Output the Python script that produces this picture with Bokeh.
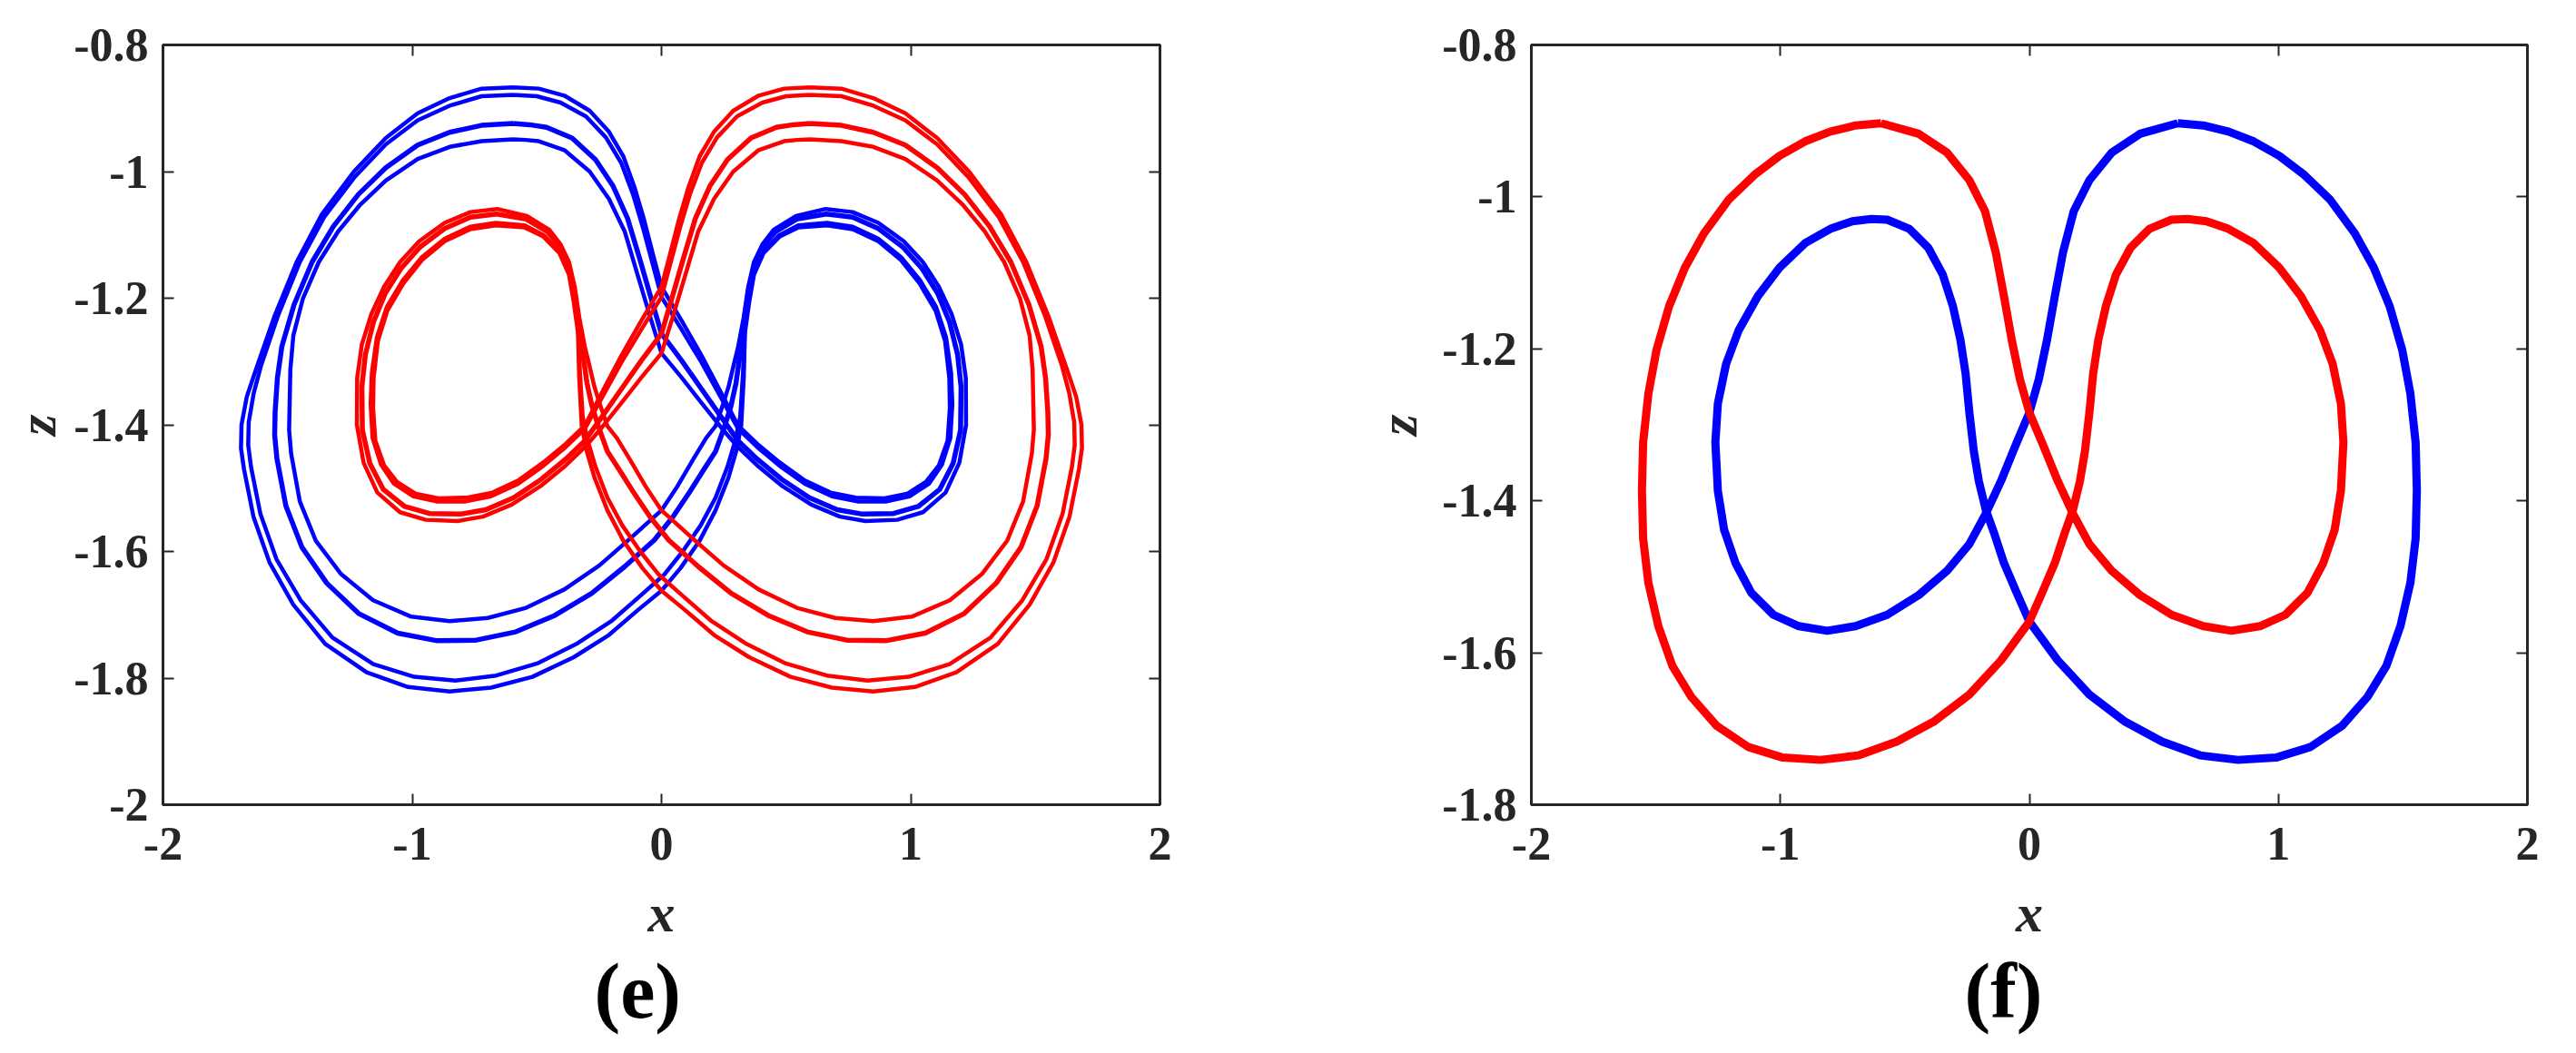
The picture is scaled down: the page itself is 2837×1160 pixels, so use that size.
from bokeh.plotting import figure
from bokeh.layouts import row
from bokeh.models import Range1d, LinearAxis, FixedTicker, CustomJSTickFormatter, Title
from bokeh.embed import file_html
from bokeh.resources import INLINE

# ---------------- data ----------------
x_ticks = [-2, -1, 0, 1, 2]
e_z_ticks = [-2.0, -1.8, -1.6, -1.4, -1.2, -1.0, -0.8]
f_z_ticks = [-1.8, -1.6, -1.4, -1.2, -1.0, -0.8]
panel_tags = ["(e)", "(f)"]
x_title = "x"
z_title = "z"

# panel (e): four strands per colour; red strands are the mirror images of blue ones
e_blue_a_x = [-0.595,-0.722,-0.850,-0.978,-1.106,-1.234,-1.362,-1.464,-1.554,-1.630,
              -1.664,-1.685,-1.687,-1.675,-1.637,-1.573,-1.477,-1.349,-1.183,-1.017,-0.850,-0.684,
              -0.518,-0.352,-0.211,-0.096,0.000,0.077,0.153,0.217,0.269,0.301,
              0.320,0.330,0.335,0.352,0.371,0.409,0.473,0.550,0.665,0.767,
              0.870,0.959,1.036,1.100,1.138,1.155,1.157,1.148,1.113,1.061,
              0.985,0.895,0.780,0.678,0.575,0.473,0.384,0.307,0.240,0.160,
              0.080,0.000,-0.032,-0.070,-0.109,-0.153,-0.211,-0.288,-0.390,-0.492,-0.595]
e_red_a_x = [0.595,0.722,0.850,0.978,1.106,1.234,1.362,1.464,1.554,1.630,
             1.664,1.685,1.687,1.675,1.637,1.573,1.477,1.349,1.183,1.017,0.850,0.684,
             0.518,0.352,0.211,0.096,0.000,-0.077,-0.153,-0.217,-0.269,-0.301,
             -0.320,-0.330,-0.335,-0.352,-0.371,-0.409,-0.473,-0.550,-0.665,-0.767,
             -0.870,-0.959,-1.036,-1.100,-1.138,-1.155,-1.157,-1.148,-1.113,-1.061,
             -0.985,-0.895,-0.780,-0.678,-0.575,-0.473,-0.384,-0.307,-0.240,-0.160,
             -0.080,0.000,0.032,0.070,0.109,0.153,0.211,0.288,0.390,0.492,0.595]
e_a_z = [-0.867,-0.869,-0.884,-0.908,-0.947,-1.000,-1.067,-1.143,-1.230,-1.316,
         -1.356,-1.400,-1.437,-1.470,-1.545,-1.617,-1.684,-1.746,-1.791,-1.814,-1.821,-1.815,
         -1.798,-1.767,-1.732,-1.693,-1.662,-1.626,-1.583,-1.535,-1.483,-1.440,
         -1.401,-1.326,-1.254,-1.206,-1.163,-1.129,-1.103,-1.088,-1.085,-1.091,
         -1.110,-1.139,-1.177,-1.220,-1.268,-1.326,-1.374,-1.425,-1.464,-1.490,
         -1.509,-1.516,-1.515,-1.507,-1.488,-1.459,-1.430,-1.401,-1.350,-1.290,
         -1.235,-1.182,-1.134,-1.076,-1.024,-0.976,-0.937,-0.904,-0.880,-0.869,-0.867]

e_blue_b_x = [-0.595,-0.722,-0.850,-0.978,-1.106,-1.230,-1.352,-1.451,-1.537,-1.607,
              -1.636,-1.656,-1.658,-1.647,-1.609,-1.545,-1.448,-1.320,-1.156,-0.992,-0.827,-0.663,
              -0.499,-0.337,-0.198,-0.082,0.010,0.085,0.157,0.217,0.265,0.296,
              0.316,0.327,0.334,0.351,0.371,0.408,0.470,0.549,0.664,0.767,
              0.870,0.961,1.038,1.102,1.142,1.162,1.167,1.159,1.125,1.073,
              0.995,0.903,0.786,0.684,0.579,0.475,0.384,0.307,0.240,0.160,
              0.080,0.000,-0.034,-0.074,-0.115,-0.162,-0.223,-0.303,-0.405,-0.500,-0.595]
e_red_b_x = [0.595,0.722,0.850,0.978,1.106,1.230,1.352,1.451,1.537,1.607,
             1.636,1.656,1.658,1.647,1.609,1.545,1.448,1.320,1.156,0.992,0.827,0.663,
             0.499,0.337,0.198,0.082,-0.010,-0.085,-0.157,-0.217,-0.265,-0.296,
             -0.316,-0.327,-0.334,-0.351,-0.371,-0.408,-0.470,-0.549,-0.664,-0.767,
             -0.870,-0.961,-1.038,-1.102,-1.142,-1.162,-1.167,-1.159,-1.125,-1.073,
             -0.995,-0.903,-0.786,-0.684,-0.579,-0.475,-0.384,-0.307,-0.240,-0.160,
             -0.080,0.000,0.034,0.074,0.115,0.162,0.223,0.303,0.405,0.500,0.595]
e_b_z = [-0.879,-0.881,-0.896,-0.919,-0.957,-1.008,-1.071,-1.143,-1.226,-1.307,
         -1.350,-1.396,-1.432,-1.466,-1.541,-1.612,-1.677,-1.736,-1.778,-1.798,-1.804,-1.796,
         -1.777,-1.745,-1.709,-1.669,-1.637,-1.600,-1.559,-1.515,-1.466,-1.425,
         -1.387,-1.319,-1.250,-1.202,-1.160,-1.127,-1.101,-1.085,-1.081,-1.087,
         -1.106,-1.135,-1.172,-1.214,-1.262,-1.318,-1.367,-1.421,-1.463,-1.493,
         -1.513,-1.521,-1.521,-1.513,-1.494,-1.465,-1.435,-1.406,-1.358,-1.301,
         -1.249,-1.198,-1.148,-1.089,-1.035,-0.986,-0.946,-0.913,-0.891,-0.881,-0.879]

e_blue_c_x = [-0.595,-0.722,-0.850,-0.978,-1.106,-1.216,-1.317,-1.402,-1.474,-1.523,
              -1.541,-1.550,-1.552,-1.543,-1.507,-1.443,-1.343,-1.215,-1.058,-0.900,-0.743,-0.585,
              -0.428,-0.280,-0.148,-0.029,0.045,0.113,0.171,0.217,0.252,0.279,
              0.299,0.314,0.332,0.349,0.371,0.406,0.457,0.543,0.661,0.767,
              0.870,0.968,1.045,1.109,1.156,1.188,1.202,1.200,1.170,1.116,
              1.030,0.931,0.807,0.705,0.593,0.482,0.384,0.307,0.242,0.160,
              0.080,0.000,-0.041,-0.088,-0.136,-0.194,-0.265,-0.359,-0.461,-0.529,-0.595]
e_red_c_x = [0.595,0.722,0.850,0.978,1.106,1.216,1.317,1.402,1.474,1.523,
             1.541,1.550,1.552,1.543,1.507,1.443,1.343,1.215,1.058,0.900,0.743,0.585,
             0.428,0.280,0.148,0.029,-0.045,-0.113,-0.171,-0.217,-0.252,-0.279,
             -0.299,-0.314,-0.332,-0.349,-0.371,-0.406,-0.457,-0.543,-0.661,-0.767,
             -0.870,-0.968,-1.045,-1.109,-1.156,-1.188,-1.202,-1.200,-1.170,-1.116,
             -1.030,-0.931,-0.807,-0.705,-0.593,-0.482,-0.384,-0.307,-0.242,-0.160,
             -0.080,0.000,0.041,0.088,0.136,0.194,0.265,0.359,0.461,0.529,0.595]
e_c_z = [-0.924,-0.927,-0.938,-0.958,-0.994,-1.036,-1.087,-1.143,-1.210,-1.276,
         -1.326,-1.379,-1.416,-1.453,-1.528,-1.593,-1.650,-1.698,-1.729,-1.741,-1.740,-1.727,
         -1.701,-1.666,-1.624,-1.582,-1.546,-1.506,-1.470,-1.442,-1.404,-1.370,
         -1.334,-1.292,-1.237,-1.189,-1.149,-1.119,-1.095,-1.075,-1.067,-1.072,
         -1.090,-1.119,-1.153,-1.193,-1.238,-1.289,-1.340,-1.408,-1.461,-1.502,
         -1.529,-1.540,-1.541,-1.534,-1.515,-1.486,-1.454,-1.425,-1.389,-1.343,
         -1.298,-1.256,-1.201,-1.137,-1.074,-1.023,-0.981,-0.947,-0.930,-0.926,-0.924]

e_blue_d_x = [-0.595,-0.722,-0.850,-0.978,-1.106,-1.208,-1.298,-1.375,-1.439,-1.477,
              -1.489,-1.492,-1.494,-1.486,-1.451,-1.387,-1.285,-1.157,-1.004,-0.850,-0.697,-0.543,
              -0.390,-0.249,-0.121,0.000,0.064,0.128,0.179,0.217,0.245,0.269,
              0.290,0.307,0.330,0.348,0.371,0.405,0.450,0.540,0.659,0.767,
              0.870,0.972,1.049,1.113,1.164,1.202,1.221,1.222,1.195,1.140,
              1.049,0.946,0.818,0.716,0.601,0.486,0.384,0.307,0.243,0.160,
              0.080,0.000,-0.045,-0.096,-0.147,-0.211,-0.288,-0.390,-0.492,-0.545,-0.595]
e_red_d_x = [0.595,0.722,0.850,0.978,1.106,1.208,1.298,1.375,1.439,1.477,
             1.489,1.492,1.494,1.486,1.451,1.387,1.285,1.157,1.004,0.850,0.697,0.543,
             0.390,0.249,0.121,0.000,-0.064,-0.128,-0.179,-0.217,-0.245,-0.269,
             -0.290,-0.307,-0.330,-0.348,-0.371,-0.405,-0.450,-0.540,-0.659,-0.767,
             -0.870,-0.972,-1.049,-1.113,-1.164,-1.202,-1.221,-1.222,-1.195,-1.140,
             -1.049,-0.946,-0.818,-0.716,-0.601,-0.486,-0.384,-0.307,-0.243,-0.160,
             -0.080,0.000,0.045,0.096,0.147,0.211,0.288,0.390,0.492,0.545,0.595]
e_d_z = [-0.949,-0.952,-0.961,-0.980,-1.014,-1.052,-1.095,-1.143,-1.201,-1.259,
         -1.313,-1.370,-1.408,-1.445,-1.521,-1.583,-1.636,-1.677,-1.703,-1.710,-1.705,-1.689,
         -1.660,-1.622,-1.578,-1.535,-1.497,-1.454,-1.421,-1.402,-1.370,-1.340,
         -1.305,-1.278,-1.230,-1.182,-1.143,-1.115,-1.092,-1.070,-1.059,-1.064,
         -1.081,-1.110,-1.143,-1.182,-1.225,-1.273,-1.326,-1.400,-1.460,-1.507,
         -1.538,-1.550,-1.552,-1.545,-1.526,-1.497,-1.464,-1.435,-1.406,-1.365,
         -1.325,-1.287,-1.230,-1.163,-1.095,-1.043,-1.000,-0.966,-0.952,-0.950,-0.949]

# panel (f): one closed orbit per colour
f_blue_x = [0.596,0.698,0.799,0.901,1.003,1.104,1.206,1.307,1.383,1.447,
            1.497,1.530,1.551,1.556,1.551,1.530,1.490,1.434,1.358,1.256,
            1.129,0.990,0.838,0.685,0.533,0.381,0.241,0.114,0.000,-0.051,
            -0.102,-0.140,-0.175,-0.203,-0.223,-0.241,-0.256,-0.277,-0.307,-0.348,
            -0.406,-0.482,-0.571,-0.635,-0.711,-0.799,-0.901,-1.003,-1.091,-1.168,
            -1.218,-1.251,-1.261,-1.251,-1.226,-1.180,-1.117,-1.028,-0.926,-0.812,
            -0.698,-0.571,-0.444,-0.330,-0.241,-0.175,-0.114,-0.058,0.000,0.038,
            0.071,0.102,0.135,0.178,0.241,0.330,0.444,0.596]
f_red_x = [-0.596,-0.698,-0.799,-0.901,-1.003,-1.104,-1.206,-1.307,-1.383,-1.447,
           -1.497,-1.530,-1.551,-1.556,-1.551,-1.530,-1.490,-1.434,-1.358,-1.256,
           -1.129,-0.990,-0.838,-0.685,-0.533,-0.381,-0.241,-0.114,0.000,0.051,
           0.102,0.140,0.175,0.203,0.223,0.241,0.256,0.277,0.307,0.348,
           0.406,0.482,0.571,0.635,0.711,0.799,0.901,1.003,1.091,1.168,
           1.218,1.251,1.261,1.251,1.226,1.180,1.117,1.028,0.926,0.812,
           0.698,0.571,0.444,0.330,0.241,0.175,0.114,0.058,0.000,-0.038,
           -0.071,-0.102,-0.135,-0.178,-0.241,-0.330,-0.444,-0.596]
f_z = [-0.903,-0.906,-0.914,-0.927,-0.946,-0.971,-1.003,-1.048,-1.093,-1.144,
       -1.201,-1.259,-1.323,-1.387,-1.450,-1.508,-1.565,-1.617,-1.658,-1.696,
       -1.724,-1.738,-1.741,-1.735,-1.717,-1.690,-1.655,-1.610,-1.559,-1.521,
       -1.482,-1.444,-1.412,-1.374,-1.335,-1.284,-1.233,-1.188,-1.144,-1.102,
       -1.067,-1.042,-1.030,-1.029,-1.032,-1.042,-1.061,-1.093,-1.131,-1.176,
       -1.220,-1.272,-1.323,-1.387,-1.438,-1.482,-1.521,-1.550,-1.565,-1.571,
       -1.565,-1.550,-1.524,-1.492,-1.457,-1.417,-1.374,-1.329,-1.284,-1.240,
       -1.188,-1.131,-1.073,-1.019,-0.978,-0.942,-0.917,-0.903]

# ---------------- styling ----------------
SERIF = "Liberation Serif"
INK = "#262626"
BLUE = "#0000ff"
RED = "#ff0000"
TICK_SIZE = "52px"
TITLE_SIZE = "60px"
TAG_SIZE = "86px"
TOP, FRAME_H = 49, 837
BOTTOM = 1160 - TOP - FRAME_H


def make_panel(z_lo, z_ticks, left_border, right_border, frame_w, tag, tag_offset, z_standoff):
    p = figure(frame_width=frame_w, frame_height=FRAME_H,
               x_range=Range1d(-2, 2), y_range=Range1d(z_lo, -0.8),
               min_border_left=left_border, min_border_right=right_border,
               min_border_top=TOP, min_border_bottom=BOTTOM,
               output_backend="svg", toolbar_location=None,
               background_fill_color="white", border_fill_color="white")
    p.grid.visible = False
    p.outline_line_color = INK
    p.outline_line_width = 3
    p.outline_line_alpha = 1.0
    p.add_layout(LinearAxis(), "above")
    p.add_layout(LinearAxis(), "right")
    fmt_code = "return String(Math.round(tick * 10) / 10);"
    for ax, ticks, labelled in ((p.below[0], x_ticks, True), (p.above[0], x_ticks, False),
                                (p.left[0], z_ticks, True), (p.right[0], z_ticks, False)):
        ax.ticker = FixedTicker(ticks=ticks)
        ax.axis_line_color = None
        ax.major_tick_in = 12
        ax.major_tick_out = 0
        ax.major_tick_line_width = 2
        ax.major_tick_line_color = INK
        ax.minor_tick_line_color = None
        if labelled:
            ax.formatter = CustomJSTickFormatter(code=fmt_code)
            ax.major_label_text_font = SERIF
            ax.major_label_text_font_style = "bold"
            ax.major_label_text_font_size = TICK_SIZE
            ax.major_label_text_color = INK
            ax.axis_label_text_font = SERIF
            ax.axis_label_text_font_style = "bold italic"
            ax.axis_label_text_font_size = TITLE_SIZE
            ax.axis_label_text_color = INK
        else:
            ax.formatter = CustomJSTickFormatter(code="return '';")
            ax.major_label_text_font_size = "0px"
            ax.major_label_standoff = 0
    xax = p.below[0]
    xax.major_label_standoff = 25
    xax.axis_label = x_title
    xax.axis_label_standoff = 23
    yax = p.left[0]
    yax.major_label_standoff = 16
    yax.axis_label = z_title
    yax.axis_label_standoff = z_standoff
    p.add_layout(Title(text=tag, align="left", offset=tag_offset, standoff=0,
                       text_font=SERIF, text_font_style="bold",
                       text_font_size=TAG_SIZE, text_color="black"), "below")
    return p


# panel (e)
pe = make_panel(-2.0, e_z_ticks, 179, 123, 1098, panel_tags[0], 475, 4)
strands_e = ((e_blue_a_x, e_red_a_x, e_a_z, 4.5),
             (e_blue_b_x, e_red_b_x, e_b_z, 4.5),
             (e_blue_c_x, e_red_c_x, e_c_z, 5.5),
             (e_blue_d_x, e_red_d_x, e_d_z, 4.5))
for bx, rx, zz, w in strands_e:
    pe.line(bx, zz, line_color=BLUE, line_width=w, line_join="round")
for bx, rx, zz, w in strands_e:
    pe.line(rx, zz, line_color=RED, line_width=w, line_join="round")

# panel (f)
pf = make_panel(-1.8, f_z_ticks, 286, 54, 1097, panel_tags[1], 477, 12)
pf.line(f_blue_x, f_z, line_color=BLUE, line_width=9, line_join="round")
pf.line(f_red_x, f_z, line_color=RED, line_width=9, line_join="round")

layout = row(pe, pf)
open("out.html", "w").write(file_html(layout, INLINE))
